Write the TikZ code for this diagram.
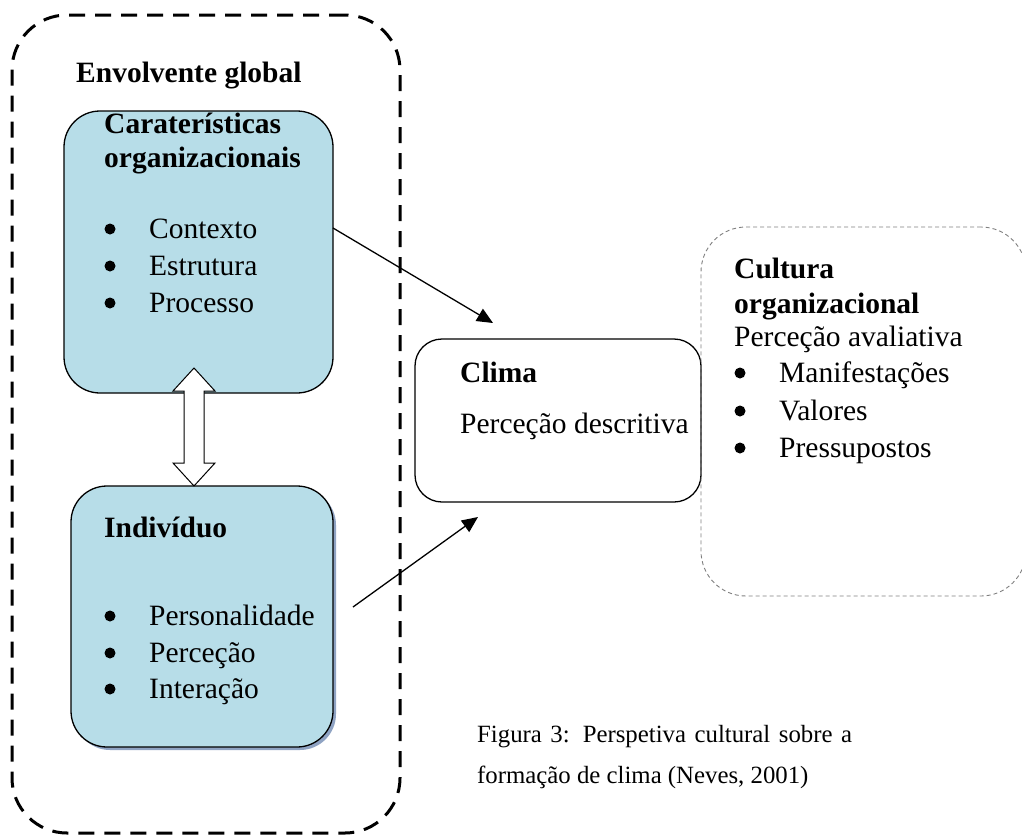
\documentclass[tikz,border=0pt]{standalone}
\usepackage{fontspec}
\setmainfont{Liberation Serif}
\usetikzlibrary{arrows.meta}
\definecolor{boxblue}{HTML}{B7DDE8}
\definecolor{shadowblue}{HTML}{8FA3C3}
\definecolor{dashgray}{HTML}{7F7F7F}
\begin{document}
\begin{tikzpicture}[x=1pt,y=-1pt,
  bigbox/.style={draw=black, line width=1.3pt, fill=boxblue, rounded corners=36pt, inner sep=0pt},
  txt/.style={anchor=base west, inner sep=0pt, font=\fontsize{29.5}{37}\selectfont},
  btxt/.style={anchor=base west, inner sep=0pt, font=\fontsize{29.5}{37}\selectfont\bfseries},
  bul/.style={circle, fill=black, inner sep=0pt, minimum size=11pt},
  link/.style={line width=1.3pt, -{Triangle[length=16pt,width=14pt]}},
  captxt/.style={anchor=base west, inner sep=0pt, font=\fontsize{24.8}{30}\selectfont}]
\useasboundingbox (0,0) rectangle (1022,835);

% outer dashed envelope
\node[draw=black, line width=3pt, dash pattern=on 16pt off 10pt, rounded corners=55pt,
      minimum width=388pt, minimum height=818pt, inner sep=0pt] (env) at (206,424) {};
\node[btxt] (envt) at (76,82) {Envolvente global};

% organisational characteristics
\node[bigbox, minimum width=269pt, minimum height=282pt] (org) at (198.5,252) {};
\node[btxt] (orgt1) at (104,133) {Caraterísticas};
\node[btxt] (orgt2) at (104,167) {organizacionais};
\node[bul] (ob1) at (110,229) {};
\node[txt] (oi1) at (149,238) {Contexto};
\node[bul] (ob2) at (110,266) {};
\node[txt] (oi2) at (149,275) {Estrutura};
\node[bul] (ob3) at (110,303) {};
\node[txt] (oi3) at (149,312) {Processo};

% individual (with shadow)
\node[fill=shadowblue, rounded corners=36pt, inner sep=0pt, minimum width=262pt, minimum height=261pt] (indsh) at (205,619.5) {};
\node[bigbox, minimum width=262pt, minimum height=261pt] (ind) at (202,616.5) {};
\node[btxt] (indt) at (104,537) {Indivíduo};
\node[bul] (ib1) at (110,616) {};
\node[txt] (ii1) at (149,625) {Personalidade};
\node[bul] (ib2) at (110,653) {};
\node[txt] (ii2) at (149,662) {Perceção};
\node[bul] (ib3) at (110,689) {};
\node[txt] (ii3) at (149,698) {Interação};

% double arrow between the two boxes
\filldraw[fill=white, draw=black, line width=1pt]
  (194,368) -- (215,391) -- (204,391) -- (204,463) -- (215,463) -- (194,486)
  -- (173,463) -- (184,463) -- (184,391) -- (173,391) -- cycle;

% clima
\node[draw=black, line width=1.3pt, rounded corners=27pt, inner sep=0pt,
      minimum width=286pt, minimum height=163pt] (clima) at (558,420.5) {};
\node[btxt] (climat) at (460,382) {Clima};
\node[txt] (climad) at (460,433) {Perceção descritiva};

% cultura
\node[draw=dashgray, line width=0.9pt, dash pattern=on 4pt off 3pt, rounded corners=45pt, inner sep=0pt,
      minimum width=325pt, minimum height=369pt] (cult) at (863.5,411.5) {};
\node[btxt] (cultt1) at (734,278) {Cultura};
\node[btxt] (cultt2) at (734,313) {organizacional};
\node[txt] (cultd) at (734,346) {Perceção avaliativa};
\node[bul] (cb1) at (740,373) {};
\node[txt] (ci1) at (779,382) {Manifestações};
\node[bul] (cb2) at (740,411) {};
\node[txt] (ci2) at (779,420) {Valores};
\node[bul] (cb3) at (740,448) {};
\node[txt] (ci3) at (779,457) {Pressupostos};

% arrows
\coordinate (a1s) at (333,228);
\coordinate (a1e) at (493,323);
\coordinate (a2s) at (353,607);
\coordinate (a2e) at (478,517);
\draw[link] (a1s) -- (a1e);
\draw[link] (a2s) -- (a2e);

% caption
\node[captxt] (cap1) at (477,742) {\makebox[375pt][s]{Figura 3: Perspetiva cultural sobre a}};
\node[captxt] (cap2) at (477,783) {formação de clima (Neves, 2001)};
\end{tikzpicture}
\end{document}
